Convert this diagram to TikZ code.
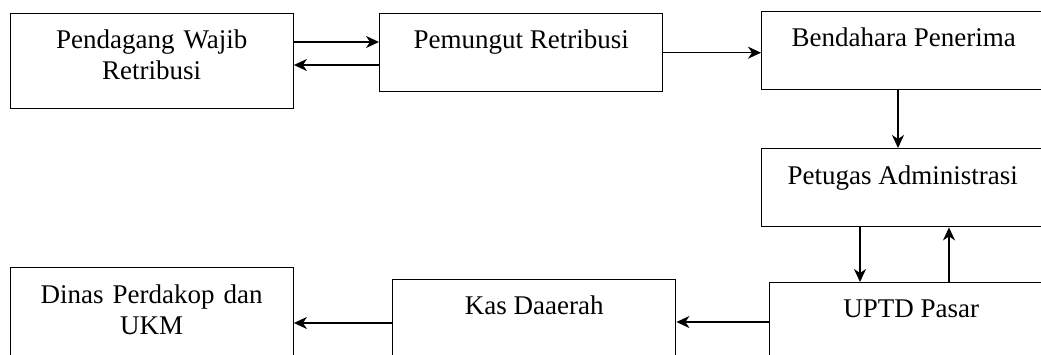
\documentclass[tikz,border=0pt]{standalone}
\usepackage{fontspec}
\setmainfont{Liberation Serif}
\usetikzlibrary{arrows.meta}

\begin{document}
\begin{tikzpicture}[x=1pt, y=-1pt,
		box/.style={draw, line width=1.4pt, anchor=north west, inner xsep=4pt, inner ysep=0pt, align=center, font=\fontsize{27}{30.5}\selectfont, minimum width=283pt, text height=35pt},
		flow/.style={line width=1.5pt, -{Stealth[length=13pt, width=12pt, inset=4pt]}}]
		\useasboundingbox (0,0) rectangle (1041,354);
		\clip (0,0) rectangle (1041,354);
		% boxes
		\node[box, text width=275pt, text depth=60pt] (pendagang) at (9.5,13) {Pendagang Wajib\\Retribusi};
		\node[box, text depth=43pt] (pemungut) at (379,13) {Pemungut Retribusi};
		\node[box, minimum width=284pt, text depth=43pt] (bendahara) at (761,11) {Bendahara Penerima};
		\node[box, minimum width=282pt, text height=36pt, text depth=42pt] (petugas) at (761,148) {Petugas Administrasi};
		\node[box, text depth=60pt] (uptd) at (769,282) {UPTD Pasar};
		\node[box, text depth=60pt] (kas) at (392,279) {Kas Daaerah};
		\node[box, text width=275pt, text height=36pt, text depth=60pt] (dinas) at (9.5,267) {Dinas Perdakop dan\\UKM};
		% arrows
		\coordinate (p1) at ([yshift=-29pt]pendagang.north east);
		\coordinate (p2) at ([yshift=-52pt]pemungut.north west);
		\draw[flow] (p1) -- (p1 -| pemungut.west);
		\draw[flow] (p2) -- (p2 -| pendagang.east);
		\draw[flow] (pemungut.east) -- (pemungut.east -| bendahara.west);
		\coordinate (b1) at ([xshift=137pt]bendahara.south west);
		\draw[flow] (b1) -- (b1 |- petugas.north);
		\coordinate (a1) at ([xshift=99pt]petugas.south west);
		\coordinate (a2) at ([xshift=188pt]petugas.south west);
		\draw[flow] (a1) -- (a1 |- uptd.north);
		\draw[flow] (a2 |- uptd.north) -- (a2);
		\coordinate (u1) at ([yshift=-40pt]uptd.north west);
		\coordinate (k1) at ([yshift=-44pt]kas.north west);
		\draw[flow] (u1) -- (u1 -| kas.east);
		\draw[flow] (k1) -- (k1 -| dinas.east);
	\end{tikzpicture}
\end{document}
